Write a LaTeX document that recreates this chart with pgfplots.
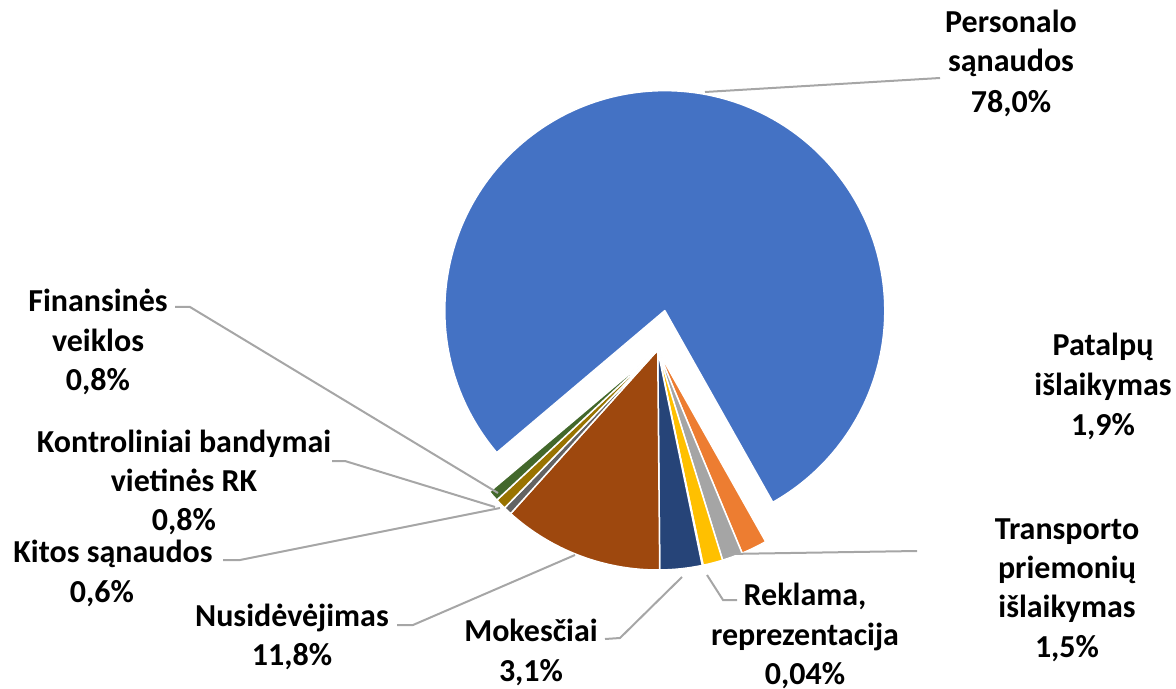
\documentclass[border=0pt]{standalone}
\usepackage{pgfplots}
\pgfplotsset{compat=1.18}
\usepackage{fontspec}
\setmainfont{Carlito}
\definecolor{c1}{HTML}{4472C4}
\definecolor{c2}{HTML}{ED7D31}
\definecolor{c3}{HTML}{A5A5A5}
\definecolor{c4}{HTML}{FFC000}
\definecolor{c5}{HTML}{5B9BD5}
\definecolor{c6}{HTML}{70AD47}
\definecolor{c7}{HTML}{264478}
\definecolor{c8}{HTML}{9E480E}
\definecolor{c9}{HTML}{636363}
\definecolor{c10}{HTML}{997300}
\definecolor{c12}{HTML}{43682B}
\definecolor{lead}{HTML}{A6A6A6}
\begin{document}
\begin{tikzpicture}
\tikzset{lbl/.style={anchor=base, font=\bfseries\fontsize{16}{19.5}\selectfont, inner sep=0pt, text=black},
  ll/.style={draw=lead, line width=1pt}}
\begin{axis}[name=ax, width=588pt, height=344.5pt, scale only axis,
  xmin=0, xmax=1176, ymin=0, ymax=689, y dir=reverse, hide axis, clip=false]
\pgfplotsextra{%
  \xdef\curang{580.2}%
  \foreach \v/\col/\ex in {78/c1/20, 1.9/c2/0, 1.5/c3/0, 1.46/c4/0, 0.04/c5/0, 0.02/c6/0, 3.1/c7/0, 11.8/c8/0, 0.6/c9/0, 0.8/c10/0, 0.8/c12/0}{%
    \pgfmathsetmacro\s{\curang}%
    \pgfmathsetmacro\e{\s-\v*3.6}%
    \pgfmathsetmacro\m{(\s+\e)/2}%
    \fill[\col, draw=white, line width=0.75pt, line join=round] (axis cs:657.7,350) ++(\m:\ex pt) -- ++(\s:110pt) arc[start angle=\s, end angle=\e, radius=110pt] -- cycle;
    \xdef\curang{\e}%
  }%
}
% leader lines
\draw[ll] (axis cs:940,78) -- (axis cs:705,92);
\draw[ll] (axis cs:175,307) -- (axis cs:190,307) -- (axis cs:498,493);
\draw[ll] (axis cs:332,461) -- (axis cs:345,461) -- (axis cs:495,507);
\draw[ll] (axis cs:223,560) -- (axis cs:240,560) -- (axis cs:500,508);
\draw[ll] (axis cs:397,625) -- (axis cs:413,625) -- (axis cs:575,555);
\draw[ll] (axis cs:605,639) -- (axis cs:620,638) -- (axis cs:682,577);
\draw[ll] (axis cs:737,600) -- (axis cs:723,600) -- (axis cs:707,575);
\draw[ll] (axis cs:917,551) -- (axis cs:727,554);
% labels
\node[lbl] at (axis cs:1011,33) {Personalo};
\node[lbl] at (axis cs:1011,72) {sąnaudos};
\node[lbl] at (axis cs:1011,113) {78,0\%};
\node[lbl] at (axis cs:1103,356) {Patalpų};
\node[lbl] at (axis cs:1103,395) {išlaikymas};
\node[lbl] at (axis cs:1103,435) {1,9\%};
\node[lbl] at (axis cs:1067,539) {Transporto};
\node[lbl] at (axis cs:1067,578) {priemonių};
\node[lbl] at (axis cs:1067,617) {išlaikymas};
\node[lbl] at (axis cs:1067,657) {1,5\%};
\node[lbl] at (axis cs:805,605) {Reklama,};
\node[lbl] at (axis cs:805,645) {reprezentacija};
\node[lbl] at (axis cs:805,684) {0,04\%};
\node[lbl] at (axis cs:531,641) {Mokesčiai};
\node[lbl] at (axis cs:531,681) {3,1\%};
\node[lbl] at (axis cs:292,626) {Nusidėvėjimas};
\node[lbl] at (axis cs:292,665) {11,8\%};
\node[lbl] at (axis cs:113,562) {Kitos sąnaudos};
\node[lbl] at (axis cs:102,602) {0,6\%};
\node[lbl] at (axis cs:184,452) {Kontroliniai bandymai};
\node[lbl] at (axis cs:184,491) {vietinės RK};
\node[lbl] at (axis cs:184,530) {0,8\%};
\node[lbl] at (axis cs:98,312) {Finansinės};
\node[lbl] at (axis cs:98,351) {veiklos};
\node[lbl] at (axis cs:98,390) {0,8\%};
\end{axis}
\pgfresetboundingbox
\path (ax.south west) rectangle (ax.north east);
\end{tikzpicture}
\end{document}
